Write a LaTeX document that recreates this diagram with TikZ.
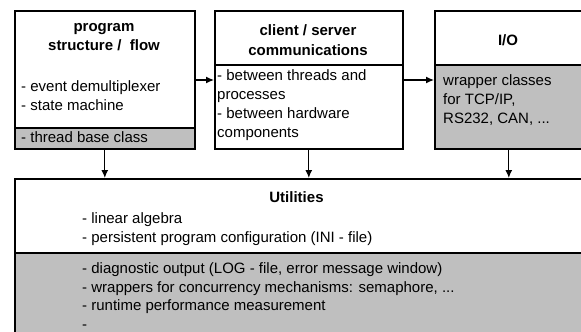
\documentclass[tikz,border=0pt]{standalone}
\usepackage{fontspec}
\setmainfont{Liberation Sans}
\usetikzlibrary{arrows.meta}

\begin{document}
\begin{tikzpicture}[x=1pt, y=-1pt,
    box/.style={draw, line width=1.6pt, anchor=north west, inner sep=0pt},
    shaded/.style={box, fill=black!25},
    title/.style={font=\fontsize{15}{19.5}\selectfont\bfseries, align=center, inner sep=0pt},
    items/.style={font=\fontsize{15}{19}\selectfont, align=left, anchor=west, inner sep=0pt},
    arr/.style={line width=1.3pt, -{Latex[length=8pt, width=7pt]}}]
    \clip (0,0) rectangle (581,332);

    % Boxes
    \node[box, minimum width=180, minimum height=117] (progtop) at (14,10) {};
    \node[shaded, minimum width=180, minimum height=21] (progbase) at (14,127) {};
    \node[box, minimum width=188, minimum height=54] (cstop) at (214,10) {};
    \node[box, minimum width=188, minimum height=84] (csitems) at (214,64) {};
    \node[box, minimum width=148, minimum height=54] (iotop) at (434,10) {};
    \node[shaded, minimum width=148, minimum height=84] (ioitems) at (434,64) {};
    \node[box, minimum width=600, minimum height=74] (utiltop) at (14,178) {};
    \node[shaded, minimum width=600, minimum height=100] (utilbase) at (14,252) {};

    % Labels
    \node[title] (progtitle) at (104,37) {program\\structure /~~flow};
    \node[items] (proglist) at (21,96) {- event demultiplexer\\- state machine};
    \node[items] (progthread) at (21,137.5) {- thread base class};
    \node[title] (cstitle) at (308,40) {client / server\\communications};
    \node[items] (cslist) at (217,105) {- between threads and\\processes\\- between hardware\\components};
    \node[title] (iotitle) at (508,40) {I/O};
    \node[items] (iolist) at (443,100) {wrapper classes\\for TCP/IP,\\RS232, CAN, ...};
    \node[title] (utiltitle) at (296.5,197) {Utilities};
    \node[items] (utillist) at (82,229.5) {- linear algebra\\- persistent program configuration (INI - file)};
    \node[items, font=\fontsize{15}{18.5}\selectfont] (utilbaselist) at (82,296)
        {- diagnostic output (LOG - file, error message window)\\- wrappers for concurrency mechanisms: semaphore, ...\\- runtime performance measurement\\-};

    % Arrows
    \coordinate (arrowrow) at (0,80);
    \draw[arr] (progtop.east |- arrowrow) -- (csitems.west |- arrowrow);
    \draw[arr] (csitems.east |- arrowrow) -- (ioitems.west |- arrowrow);
    \draw[arr] (progbase.south) -- (progbase.south |- utiltop.north);
    \draw[arr] (csitems.south) -- (csitems.south |- utiltop.north);
    \draw[arr] (ioitems.south) -- (ioitems.south |- utiltop.north);

\end{tikzpicture}
\end{document}
